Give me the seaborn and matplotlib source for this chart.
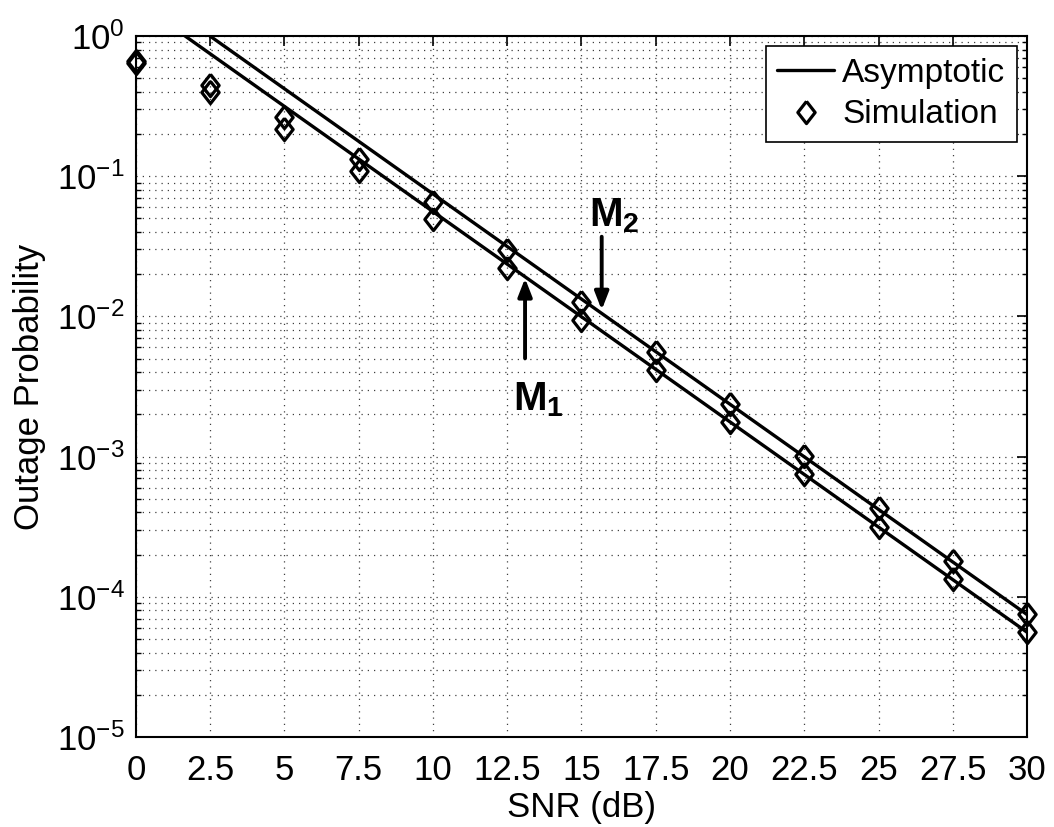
import numpy as np
import pandas as pd
import matplotlib
matplotlib.use("Agg")
import matplotlib.pyplot as plt
import seaborn as sns
from matplotlib.lines import Line2D
from matplotlib.ticker import LogLocator, NullFormatter, FixedLocator

# ---------------- data ----------------
snr_db = [0, 2.5, 5, 7.5, 10, 12.5, 15, 17.5, 20, 22.5, 25, 27.5, 30]

asym_m1 = [1.77, 0.746, 0.3144, 0.1326, 0.0559, 0.02358, 0.00994,
           0.004193, 0.001768, 7.46e-4, 3.144e-4, 1.326e-4, 5.59e-5]
asym_m2 = [2.363, 0.9966, 0.4202, 0.1772, 0.0747, 0.03151, 0.01329,
           0.005604, 0.002363, 9.966e-4, 4.202e-4, 1.772e-4, 7.47e-5]

sim_m1 = [0.64, 0.40, 0.216, 0.108, 0.0495, 0.0220, 0.0094,
          0.00415, 0.00177, 7.48e-4, 3.16e-4, 1.33e-4, 5.6e-5]
sim_m2 = [0.66, 0.445, 0.263, 0.132, 0.0650, 0.0296, 0.0127,
          0.0056, 0.00237, 1.01e-3, 4.28e-4, 1.80e-4, 7.6e-5]

x_ticks = [0, 2.5, 5, 7.5, 10, 12.5, 15, 17.5, 20, 22.5, 25, 27.5, 30]
x_tick_labels = ["0", "2.5", "5", "7.5", "10", "12.5", "15", "17.5",
                 "20", "22.5", "25", "27.5", "30"]

legend_labels = ["Asymptotic", "Simulation"]
x_label = "SNR (dB)"
y_label = "Outage Probability"

# annotation anchors (data coords)
m1_label, m1_text_xy, m1_tail, m1_head = r"$\mathbf{M_1}$", (13.55, 0.00255), (13.1, 0.00502), (13.1, 0.0187)
m2_label, m2_text_xy, m2_tail, m2_head = r"$\mathbf{M_2}$", (16.1, 0.052), (15.68, 0.0370), (15.68, 0.01111)

# ---------------- style ----------------
sns.set_theme(style="white")
plt.rcParams["font.family"] = ["Liberation Sans", "DejaVu Sans"]
plt.rcParams["mathtext.fontset"] = "custom"
plt.rcParams["mathtext.rm"] = "Liberation Sans"
plt.rcParams["mathtext.it"] = "Liberation Sans:italic"
plt.rcParams["mathtext.bf"] = "Liberation Sans:bold"
plt.rcParams["mathtext.default"] = "regular"
plt.rcParams["text.color"] = "black"
plt.rcParams["axes.labelcolor"] = "black"
plt.rcParams["xtick.color"] = "black"
plt.rcParams["ytick.color"] = "black"

fig = plt.figure(figsize=(10.54, 8.27), dpi=100)
ax = fig.add_axes([0.129, 0.1088, 0.9744 - 0.129, 0.9565 - 0.1088])

df_asym = pd.DataFrame({"snr": snr_db * 2,
                        "p": asym_m1 + asym_m2,
                        "curve": ["M1"] * len(snr_db) + ["M2"] * len(snr_db)})
df_sim = pd.DataFrame({"snr": snr_db * 2,
                       "p": sim_m1 + sim_m2,
                       "curve": ["M1"] * len(snr_db) + ["M2"] * len(snr_db)})

sns.lineplot(data=df_asym, x="snr", y="p", units="curve", estimator=None,
             color="black", linewidth=2.4, ax=ax, legend=False)

diamond = [(0, 1), (0.78, 0), (0, -1), (-0.78, 0), (0, 1)]
for c in ["M1", "M2"]:
    sub = df_sim[df_sim["curve"] == c]
    sns.lineplot(data=sub, x="snr", y="p", linestyle="none", marker=diamond,
                 markersize=16, markerfacecolor="none", markeredgecolor="black",
                 markeredgewidth=2.3, ax=ax, legend=False, clip_on=False,
                 estimator=None)

ax.set_yscale("log")
ax.set_xlim(0, 30)
ax.set_ylim(1e-5, 1)

ax.xaxis.set_major_locator(FixedLocator(x_ticks))
ax.set_xticklabels(x_tick_labels)
ax.yaxis.set_major_locator(LogLocator(base=10, numticks=10))
ax.yaxis.set_minor_locator(LogLocator(base=10, subs=np.arange(2, 10), numticks=20))
ax.yaxis.set_minor_formatter(NullFormatter())

ax.tick_params(axis="both", which="major", direction="in", length=7, width=1.2,
               top=True, right=True, labelsize=25, colors="black")
ax.tick_params(axis="x", which="major", pad=12)
ax.tick_params(axis="y", which="major", pad=8)
ax.tick_params(axis="y", which="minor", direction="in", length=3.5, width=1.0,
               left=True, right=True)
ax.tick_params(axis="x", which="minor", bottom=False, top=False)

ax.grid(True, which="major", axis="both", color="0.25", linestyle=(0, (1, 4)), linewidth=0.9)
ax.grid(True, which="minor", axis="y", color="0.25", linestyle=(0, (1, 4)), linewidth=0.9)
for s in ax.spines.values():
    s.set_color("black")
    s.set_linewidth(1.5)

ax.set_xlabel(x_label, fontsize=25, labelpad=3, color="black")
ax.set_ylabel(y_label, fontsize=25, labelpad=8, color="black")

handles = [Line2D([0], [0], color="black", linewidth=2.4),
           Line2D([0], [0], linestyle="none", marker=diamond, markersize=16,
                  markerfacecolor="none", markeredgecolor="black", markeredgewidth=2.3)]
leg = ax.legend(handles, legend_labels, loc="upper right", fontsize=24,
                frameon=True, fancybox=False, edgecolor="black", framealpha=1,
                borderaxespad=0.3, handlelength=1.7, handletextpad=0.25,
                borderpad=0.35, labelspacing=0.32)
leg.get_frame().set_linewidth(1.2)
for t in leg.get_texts():
    t.set_color("black")

arrow_kw = dict(arrowstyle="-|>,head_length=0.9,head_width=0.35", color="black",
                linewidth=2.8, shrinkA=0, shrinkB=0)
ax.annotate("", xy=m1_head, xytext=m1_tail, arrowprops=arrow_kw)
ax.annotate("", xy=m2_head, xytext=m2_tail, arrowprops=arrow_kw)
ax.text(*m1_text_xy, m1_label, fontsize=29, ha="center", va="center",
        fontweight="bold", color="black")
ax.text(*m2_text_xy, m2_label, fontsize=29, ha="center", va="center",
        fontweight="bold", color="black")

fig.savefig("out.png", dpi=100, facecolor="white")
